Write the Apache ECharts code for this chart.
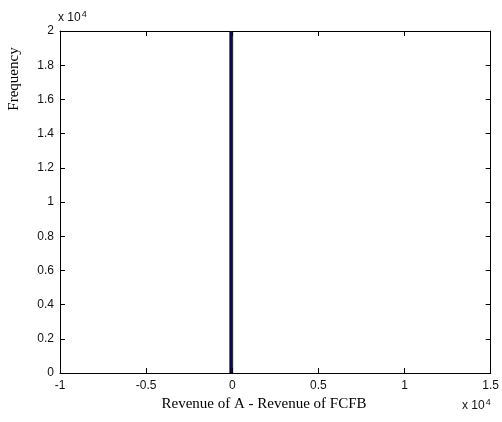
<!DOCTYPE html>
<html>
<head>
<meta charset="utf-8">
<script src="https://cdn.jsdelivr.net/npm/echarts@6/dist/echarts.min.js"></script>
<style>
  html, body { margin: 0; padding: 0; background: #fff; }
  #chart { width: 502px; height: 422px; }
</style>
</head>
<body>
<div id="chart"></div>
<script>
// Histogram of revenue differences: bin edges and counts
const binLeft = [-150];
const binRight = [30];
const binCount = [20000];

const xTicks = [-10000, 15000, 5000];   // min, max, step
const yTicks = [0, 20000, 2000];

const SCALE = 10000;
const fmt = v => {
  const s = +(v / SCALE).toFixed(2);
  return String(s);
};

const bins = binLeft.map((l, i) => [l, binRight[i], binCount[i]]);

const chart = echarts.init(document.getElementById('chart'));

const tickFont = { fontFamily: 'Liberation Sans, Arial, sans-serif', fontSize: 12, color: '#111' };

const axisCommon = {
  type: 'value',
  axisLine: { show: true, onZero: false, lineStyle: { color: '#000', width: 1 } },
  axisTick: { show: true, inside: true, length: 5, lineStyle: { color: '#000' } },
  splitLine: { show: false }
};

chart.setOption({
  animation: false,
  grid: { left: 60, right: 10, top: 31, bottom: 49, containLabel: false },
  xAxis: [
    Object.assign({}, axisCommon, {
      min: xTicks[0], max: xTicks[1], interval: xTicks[2],
      position: 'bottom',
      axisLabel: Object.assign({ formatter: fmt, margin: 7 }, tickFont)
    }),
    Object.assign({}, axisCommon, {
      min: xTicks[0], max: xTicks[1], interval: xTicks[2],
      position: 'top',
      axisLabel: { show: false }
    })
  ],
  yAxis: [
    Object.assign({}, axisCommon, {
      min: yTicks[0], max: yTicks[1], interval: yTicks[2],
      position: 'left',
      axisLabel: Object.assign({ formatter: fmt, margin: 6 }, tickFont)
    }),
    Object.assign({}, axisCommon, {
      min: yTicks[0], max: yTicks[1], interval: yTicks[2],
      position: 'right',
      axisLabel: { show: false }
    })
  ],
  series: [{
    type: 'custom',
    xAxisIndex: 0,
    yAxisIndex: 0,
    clip: true,
    data: bins,
    encode: { x: [0, 1], y: 2 },
    renderItem: function (params, api) {
      const p0 = api.coord([api.value(0), 0]);
      const p1 = api.coord([api.value(1), api.value(2)]);
      return {
        type: 'rect',
        shape: { x: p0[0], y: p1[1], width: Math.max(p1[0] - p0[0], 1), height: p0[1] - p1[1] },
        style: { fill: '#0b0b4a', stroke: '#000', lineWidth: 0.5 }
      };
    }
  }],
  graphic: [
    {
      type: 'text', left: 58, top: 10,
      style: {
        text: 'x 10{s|4}',
        fontFamily: 'Liberation Sans, Arial, sans-serif', fontSize: 12, fill: '#111',
        rich: { s: { fontSize: 9, verticalAlign: 'top', padding: [0, 0, 7, 1], fontFamily: 'Liberation Sans, Arial, sans-serif', fill: '#111' } }
      }
    },
    {
      type: 'text', left: 462, top: 398,
      style: {
        text: 'x 10{s|4}',
        fontFamily: 'Liberation Sans, Arial, sans-serif', fontSize: 12, fill: '#111',
        rich: { s: { fontSize: 9, verticalAlign: 'top', padding: [0, 0, 7, 1], fontFamily: 'Liberation Sans, Arial, sans-serif', fill: '#111' } }
      }
    },
    {
      type: 'text', x: 264, y: 404,
      style: {
        text: 'Revenue of A - Revenue of FCFB',
        fontFamily: 'Liberation Serif, Times New Roman, serif', fontSize: 15, fill: '#000',
        align: 'center', verticalAlign: 'middle'
      }
    },
    {
      type: 'text', x: 14, y: 79, rotation: Math.PI / 2,
      style: {
        text: 'Frequency',
        fontFamily: 'Liberation Serif, Times New Roman, serif', fontSize: 15, fill: '#000',
        align: 'center', verticalAlign: 'middle'
      }
    }
  ]
});
</script>
</body>
</html>
